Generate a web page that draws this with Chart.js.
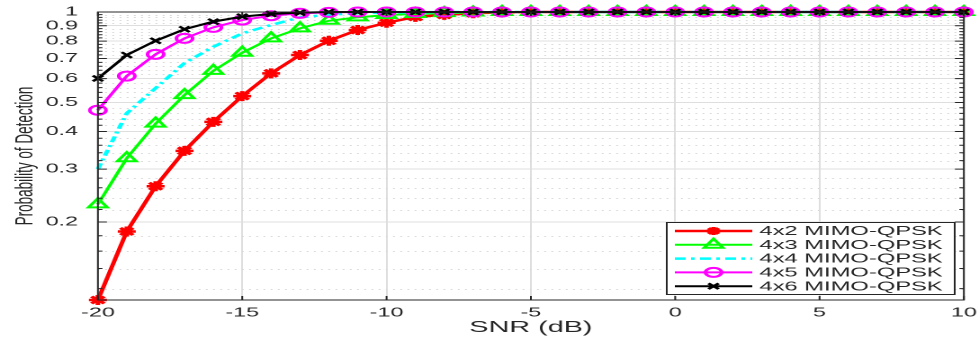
<!DOCTYPE html>
<html>
<head>
<meta charset="utf-8">
<script src="https://cdn.jsdelivr.net/npm/chart.js@4.4.0/dist/chart.umd.min.js"></script>
<style>
  html, body { margin: 0; padding: 0; background: #fff; overflow: hidden; }
  /* the reference figure is stretched horizontally, so draw narrow and stretch */
  #wrap { position: absolute; left: 0; top: 0; width: 544px; height: 343px;
          transform: scale(1.7996, 1); transform-origin: 0 0; }
</style>
</head>
<body>
<div id="wrap"><canvas id="pdChart"></canvas></div>
<script>
const snr = [-20, -19, -18, -17, -16, -15, -14, -13, -12, -11, -10, -9, -8, -7, -6, -5,
             -4, -3, -2, -1, 0, 1, 2, 3, 4, 5, 6, 7, 8, 9, 10];

const pd4x2 = [0.11, 0.186, 0.263, 0.345, 0.431, 0.525, 0.625, 0.719, 0.802, 0.871, 0.921,
               0.963, 0.978, 0.99, 0.997, 1, 1, 1, 1, 1, 1, 1, 1, 1, 1, 1, 1, 1, 1, 1, 1];
const pd4x3 = [0.229, 0.326, 0.425, 0.529, 0.637, 0.732, 0.817, 0.882, 0.935, 0.96, 0.977,
               0.985, 0.991, 0.996, 1, 1, 1, 1, 1, 1, 1, 1, 1, 1, 1, 1, 1, 1, 1, 1, 1];
const pd4x4 = [0.3, 0.46, 0.558, 0.676, 0.766, 0.849, 0.905, 0.96, 0.98, 0.99, 0.996,
               0.998, 1, 1, 1, 1, 1, 1, 1, 1, 1, 1, 1, 1, 1, 1, 1, 1, 1, 1, 1];
const pd4x5 = [0.471, 0.612, 0.723, 0.817, 0.889, 0.94, 0.972, 0.99, 0.997, 1, 1,
               1, 1, 1, 1, 1, 1, 1, 1, 1, 1, 1, 1, 1, 1, 1, 1, 1, 1, 1, 1];
const pd4x6 = [0.601, 0.719, 0.802, 0.876, 0.929, 0.965, 0.985, 0.995, 1, 1, 1,
               1, 1, 1, 1, 1, 1, 1, 1, 1, 1, 1, 1, 1, 1, 1, 1, 1, 1, 1, 1];

const seriesNames = ["4x2 MIMO-QPSK", "4x3 MIMO-QPSK", "4x4 MIMO-QPSK", "4x5 MIMO-QPSK", "4x6 MIMO-QPSK"];
const yTicks = [0.2, 0.3, 0.4, 0.5, 0.6, 0.7, 0.8, 0.9, 1];
const yTickLabels = ["0.2", "0.3", "0.4", "0.5", "0.6", "0.7", "0.8", "0.9", "1"];
const xTicks = [-20, -15, -10, -5, 0, 5, 10];

// minor ticks every 0.02 on the log axis (skipping the labelled ones)
const yMinor = [];
for (let i = 6; i < 50; i++) {
  const v = i / 50;
  if (!yTicks.some((t) => Math.abs(t - v) < 1e-9)) yMinor.push(v);
}

const FONT = "'Liberation Sans', Arial, Helvetica, sans-serif";
const INK = "#262626";

const toPoints = (arr) => arr.map((y, i) => ({ x: snr[i], y }));

// grid, box, inward ticks and the legend, MATLAB style
const matlabAxes = {
  id: "matlabAxes",
  beforeDatasetsDraw(chart) {
    const { ctx, chartArea: a, scales: { y } } = chart;
    ctx.save();
    ctx.strokeStyle = "#d9d9d9";
    ctx.lineWidth = 1;
    ctx.setLineDash([1, 3]);
    yMinor.forEach((v) => {
      const py = Math.round(y.getPixelForValue(v)) + 0.5;
      ctx.beginPath();
      ctx.moveTo(a.left, py);
      ctx.lineTo(a.right, py);
      ctx.stroke();
    });
    ctx.restore();
  },
  afterDatasetsDraw(chart) {
    const { ctx, chartArea: a, scales: { x, y } } = chart;
    ctx.save();
    ctx.strokeStyle = INK;
    ctx.lineWidth = 1;
    ctx.beginPath();
    yTicks.forEach((v) => {
      const py = y.getPixelForValue(v);
      ctx.moveTo(a.left, py); ctx.lineTo(a.left + 5, py);
      ctx.moveTo(a.right, py); ctx.lineTo(a.right - 5, py);
    });
    yMinor.forEach((v) => {
      const py = y.getPixelForValue(v);
      ctx.moveTo(a.left, py); ctx.lineTo(a.left + 2.5, py);
      ctx.moveTo(a.right, py); ctx.lineTo(a.right - 2.5, py);
    });
    xTicks.forEach((v) => {
      const px = x.getPixelForValue(v);
      ctx.moveTo(px, a.bottom); ctx.lineTo(px, a.bottom - 4);
      ctx.moveTo(px, a.top); ctx.lineTo(px, a.top + 4);
    });
    ctx.stroke();
    ctx.strokeRect(a.left, a.top, a.right - a.left, a.bottom - a.top);
    ctx.restore();
  },
  afterDraw(chart) {
    const { ctx } = chart;
    const bx = 370, by = 222, bw = 160, bh = 72;
    ctx.save();
    ctx.fillStyle = "#fff";
    ctx.fillRect(bx, by, bw, bh);
    ctx.strokeStyle = INK;
    ctx.lineWidth = 1;
    ctx.strokeRect(bx + 0.5, by + 0.5, bw, bh);
    chart.data.datasets.forEach((ds, i) => {
      const ly = by + 9 + i * 13.8;
      ctx.strokeStyle = ds.borderColor;
      ctx.lineWidth = ds.borderWidth;
      ctx.setLineDash(ds.borderDash || []);
      ctx.beginPath();
      ctx.moveTo(375, ly);
      ctx.lineTo(418, ly);
      ctx.stroke();
      ctx.setLineDash([]);
      if (ds.pointRadius > 0) {
        ctx.fillStyle = ds.pointBackgroundColor;
        ctx.lineWidth = ds.pointBorderWidth;
        Chart.helpers.drawPoint(ctx, {
          pointStyle: ds.pointStyle, rotation: 0,
          radius: ds.pointStyle === "star" ? 4 : ds.pointRadius,
          borderWidth: ds.pointBorderWidth,
        }, 396.5, ly);
      }
      ctx.fillStyle = INK;
      ctx.font = "13.2px " + FONT;
      ctx.textBaseline = "middle";
      ctx.textAlign = "left";
      ctx.fillText(seriesNames[i], 422, ly + 0.5);
    });
    ctx.restore();
  },
};

const ctx = document.getElementById("pdChart").getContext("2d");
new Chart(ctx, {
  type: "line",
  data: {
    datasets: [
      {
        label: seriesNames[0], data: toPoints(pd4x2), order: 5,
        borderColor: "#ff0000", borderWidth: 2.5,
        pointStyle: "star", pointRadius: 5, pointBorderWidth: 2.5,
        pointBorderColor: "#ff0000", pointBackgroundColor: "#ff0000",
      },
      {
        label: seriesNames[1], data: toPoints(pd4x3), order: 4,
        borderColor: "#00ff00", borderWidth: 2,
        pointStyle: "triangle", pointRadius: 6, pointBorderWidth: 2,
        pointBorderColor: "#00ff00", pointBackgroundColor: "rgba(0,0,0,0)",
      },
      {
        label: seriesNames[2], data: toPoints(pd4x4), order: 3,
        borderColor: "#00ffff", borderWidth: 2.5, borderDash: [6, 3, 2, 3],
        pointRadius: 0, pointBorderWidth: 0,
      },
      {
        label: seriesNames[3], data: toPoints(pd4x5), order: 2,
        borderColor: "#ff00ff", borderWidth: 2,
        pointStyle: "circle", pointRadius: 4.5, pointBorderWidth: 2,
        pointBorderColor: "#ff00ff", pointBackgroundColor: "rgba(0,0,0,0)",
      },
      {
        label: seriesNames[4], data: toPoints(pd4x6), order: 1,
        borderColor: "#000000", borderWidth: 2,
        pointStyle: "crossRot", pointRadius: 4, pointBorderWidth: 2,
        pointBorderColor: "#000000", pointBackgroundColor: "#000000",
      },
    ],
  },
  options: {
    responsive: true,
    maintainAspectRatio: false,
    devicePixelRatio: 2,
    animation: false,
    events: [],
    clip: 10,
    layout: { padding: { top: 12, right: 8.4, left: 0, bottom: 0 } },
    plugins: { legend: { display: false }, tooltip: { enabled: false } },
    scales: {
      x: {
        type: "linear", min: -20, max: 10,
        afterBuildTicks: (s) => { s.ticks = xTicks.map((v) => ({ value: v })); },
        ticks: { color: INK, font: { family: FONT, size: 13 }, padding: 0, maxRotation: 0, autoSkip: false },
        grid: { color: "#dedede", lineWidth: 1, drawTicks: true, tickLength: 5, tickColor: "rgba(0,0,0,0)" },
        border: { display: false },
        title: { display: true, text: "SNR (dB)", color: INK,
                 font: { family: FONT, size: 16 }, padding: { top: 0, bottom: 6 } },
        afterFit: (s) => { s.height = 43; },
      },
      y: {
        type: "logarithmic", min: 0.11, max: 1,
        afterBuildTicks: (s) => { s.ticks = yTicks.map((v) => ({ value: v })); },
        ticks: {
          color: INK, font: { family: FONT, size: 13 }, padding: 0, autoSkip: false,
          callback: (v) => {
            const k = yTicks.findIndex((t) => Math.abs(t - v) < 1e-9);
            return k >= 0 ? yTickLabels[k] : "";
          },
        },
        grid: { color: "#dedede", lineWidth: 1, drawTicks: true, tickLength: 11, tickColor: "rgba(0,0,0,0)" },
        border: { display: false },
        title: { display: true, text: "Probability of Detection", color: INK,
                 font: { family: FONT, size: 13.5 }, padding: { top: 6, bottom: 0 } },
        afterFit: (s) => { s.width = 54.4; },
      },
    },
  },
  plugins: [matlabAxes],
});
</script>
</body>
</html>
